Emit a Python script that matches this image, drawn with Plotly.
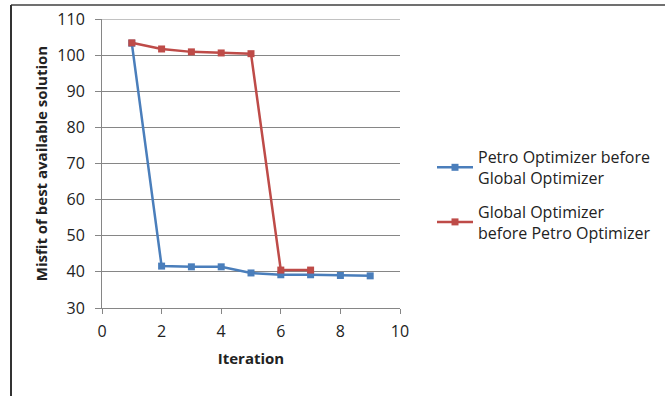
import plotly.graph_objects as go

iterations_petro = [1, 2, 3, 4, 5, 6, 7, 8, 9]
misfit_petro = [103.3, 41.6, 41.4, 41.4, 39.7, 39.2, 39.2, 39.0, 38.9]
iterations_global = [1, 2, 3, 4, 5, 6, 7]
misfit_global = [103.4, 101.7, 100.9, 100.6, 100.4, 40.5, 40.5]
name_petro = "Petro Optimizer before<br>Global Optimizer"
name_global = "Global Optimizer<br>before Petro Optimizer"
y_max = 110

W, H = 665, 396
FONT = "Open Sans, Liberation Sans, sans-serif"
X_DOM = [102 / W, 400 / W]

fig = go.Figure()
fig.add_trace(go.Scatter(x=iterations_petro, y=misfit_petro, mode="lines+markers",
                         name=name_petro, legendgroup="a",
                         line=dict(color="#4A7EBB", width=2.5),
                         marker=dict(symbol="square", size=7, color="#4A7EBB")))
fig.add_trace(go.Scatter(x=iterations_global, y=misfit_global, mode="lines+markers",
                         name=name_global, legendgroup="b",
                         line=dict(color="#BE4B48", width=2.5),
                         marker=dict(symbol="square", size=7, color="#BE4B48")))

fig.update_layout(
    width=W, height=H,
    margin=dict(l=0, r=0, t=0, b=0),
    paper_bgcolor="white", plot_bgcolor="white",
    font=dict(family=FONT, size=15, color="#222"),
    xaxis=dict(domain=X_DOM, range=[0, 10], dtick=2, tick0=0,
               showgrid=False, zeroline=False, showline=True, linecolor="#868686",
               linewidth=1, ticks="outside", ticklen=5, tickcolor="#868686",
               tickfont=dict(size=16),
               ticklabelstandoff=4, automargin=False,
               title=dict(text="<b>Iteration</b>", font=dict(size=15), standoff=12)),
    yaxis=dict(domain=[1 - 308 / H, 1 - 19 / H], range=[30, y_max], dtick=10, tick0=30,
               showgrid=True, gridcolor="#868686", gridwidth=1, zeroline=False,
               showline=True, linecolor="#868686", linewidth=1, ticks="outside",
               ticklen=6, tickcolor="#868686", ticklabelstandoff=7, automargin=False,
               tickfont=dict(size=16),
               title=dict(text="<b>Misfit of best available solution</b>",
                          font=dict(size=15), standoff=6)),
    legend=dict(x=432 / W, y=1 - 140 / H, xanchor="left", yanchor="top",
                font=dict(size=16), traceorder="grouped", tracegroupgap=10,
                itemwidth=36, bgcolor="rgba(0,0,0,0)"),
    showlegend=True,
)

fig.add_shape(type="line", xref="paper", yref="y", x0=X_DOM[0], x1=X_DOM[1], y0=y_max, y1=y_max,
              line=dict(color="#868686", width=1), layer="below")
fig.add_shape(type="line", xref="paper", yref="paper", x0=11 / W, x1=1, y0=1 - 5 / H, y1=1 - 5 / H,
              line=dict(color="#707070", width=2))
fig.add_shape(type="line", xref="paper", yref="paper", x0=11 / W, x1=11 / W, y0=1 - 5 / H, y1=0,
              line=dict(color="#333333", width=2))

fig.write_html("out.html")
